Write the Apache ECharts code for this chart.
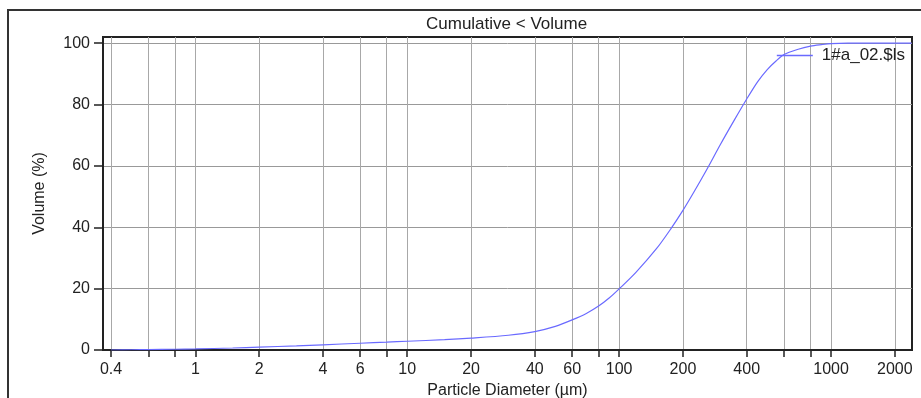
<!DOCTYPE html>
<html>
<head>
<meta charset="utf-8">
<script src="https://cdn.jsdelivr.net/npm/echarts@6/dist/echarts.min.js"></script>
<style>
  html, body { margin: 0; padding: 0; background: #fff; }
  #chart { width: 921px; height: 398px; }
</style>
</head>
<body>
<div id="chart"></div>
<script>
// particle diameter (µm) and cumulative volume (%)
const diameters = [0.4, 0.5, 0.6, 0.8, 1, 1.5, 2, 3, 4, 6, 8, 10, 15, 20, 30, 40, 50, 60, 70, 80, 90, 100,
  120, 150, 175, 200, 225, 260, 300, 350, 400, 450, 500, 550, 600, 700, 800, 900, 1000, 1200, 1500, 2000, 2400]
const cumulative = [0, 0.08, 0.15, 0.25, 0.35, 0.65, 0.95, 1.35, 1.7, 2.2, 2.55, 2.85, 3.35, 3.85, 4.8, 6.0, 7.7, 9.8, 11.9, 14.3, 17.0, 19.9,
  25.3, 33.0, 39.4, 45.5, 51.4, 59.0, 66.9, 75.0, 81.8, 87.4, 91.4, 94.2, 96.3, 98.0, 99.0, 99.5, 99.85, 100, 100, 100, 100]

const xLabels = [0.4, 1, 2, 4, 6, 10, 20, 40, 60, 100, 200, 400, 1000, 2000]
const xTicks = [0.4, 0.6, 0.8, 1, 2, 4, 6, 8, 10, 20, 40, 60, 80, 100, 200, 400, 600, 800, 1000, 2000]
const yTicks = [0, 20, 40, 60, 80, 100]

const seriesName = '1#a_02.$ls'
const font = "'Liberation Sans', Arial, sans-serif"

const lg = (v) => Math.log10(v)
const data = diameters.map((d, i) => [lg(d), cumulative[i]])

const chart = echarts.init(document.getElementById('chart'))
chart.setOption({
  animation: false,
  title: {
    text: 'Cumulative < Volume',
    left: 421,
    top: 11,
    textStyle: { fontFamily: font, fontSize: 17, fontWeight: 'normal', color: '#222' },
  },
  legend: {
    right: 11,
    top: 42,
    icon: 'rect',
    itemWidth: 36,
    itemHeight: 1.5,
    textStyle: { fontFamily: font, fontSize: 17, color: '#222', padding: [0, 0, 0, 4] },
    data: [seriesName],
  },
  grid: {
    left: 103,
    right: 9,
    top: 37,
    bottom: 48,
    show: true,
    borderColor: '#222',
    borderWidth: 2,
    containLabel: false,
    outerBoundsMode: 'none',
  },
  graphic: [
    {
      type: 'rect',
      shape: { x: 8, y: 10, width: 1000, height: 500 },
      style: { fill: 'none', stroke: '#333', lineWidth: 2 },
      silent: true,
    },
  ],
  xAxis: {
    type: 'value',
    min: lg(0.3667),
    max: lg(2410),
    name: 'Particle Diameter (µm)',
    nameLocation: 'middle',
    nameGap: 32,
    nameTextStyle: { fontFamily: font, fontSize: 16, color: '#222' },
    axisLine: { onZero: false, lineStyle: { color: '#222', width: 2 } },
    axisTick: {
      customValues: xTicks.map(lg),
      length: 7,
      lineStyle: { color: '#222', width: 1.5 },
    },
    axisLabel: {
      customValues: xLabels.map(lg),
      margin: 12,
      fontFamily: font,
      fontSize: 16,
      color: '#222',
      formatter(v) {
        let best = xLabels[0]
        xLabels.forEach((l) => {
          if (Math.abs(lg(l) - v) < Math.abs(lg(best) - v)) best = l
        })
        return String(best)
      },
    },
    splitLine: { show: true, lineStyle: { color: '#a8a8a8', width: 1 } },
  },
  yAxis: {
    type: 'value',
    min: 0,
    max: 102,
    name: 'Volume (%)',
    nameLocation: 'middle',
    nameGap: 55,
    nameTextStyle: { fontFamily: font, fontSize: 16, color: '#222' },
    axisLine: { show: true, onZero: false, lineStyle: { color: '#222', width: 2 } },
    axisTick: {
      show: true,
      customValues: yTicks,
      length: 9,
      lineStyle: { color: '#222', width: 1.5 },
    },
    axisLabel: {
      customValues: yTicks,
      margin: 13,
      fontFamily: font,
      fontSize: 16,
      color: '#222',
    },
    splitLine: { show: true, lineStyle: { color: '#999', width: 1 } },
  },
  series: [
    {
      name: seriesName,
      type: 'line',
      data: data,
      symbol: 'none',
      smooth: 0.3,
      lineStyle: { color: '#6a6aff', width: 1.2 },
      itemStyle: { color: '#6a6aff' },
    },
  ],
})
</script>
</body>
</html>
